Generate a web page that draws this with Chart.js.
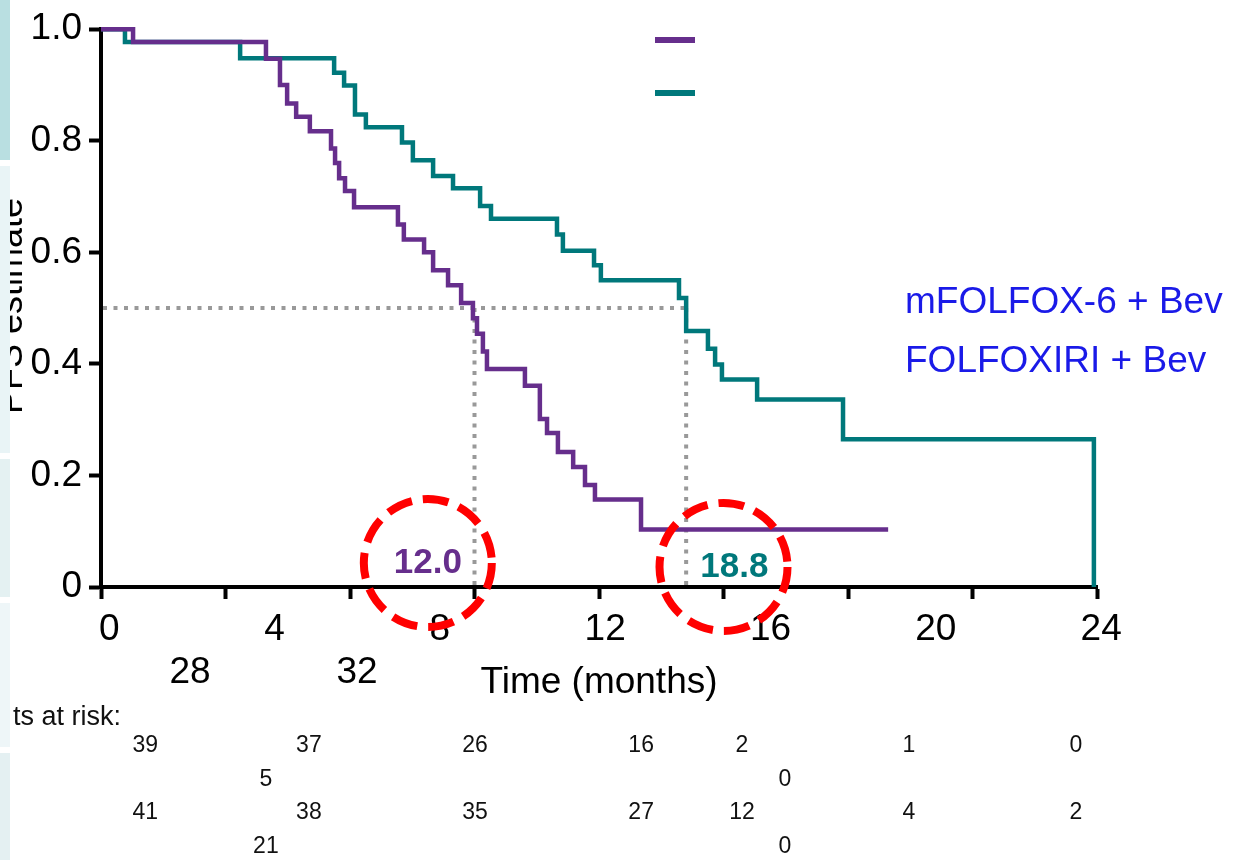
<!DOCTYPE html>
<html>
<head>
<meta charset="utf-8">
<script src="https://cdn.jsdelivr.net/npm/chart.js@4/dist/chart.umd.min.js"></script>
<style>
  html, body { margin: 0; padding: 0; background: #fff; }
  #wrap { position: relative; width: 1233px; height: 860px; }
</style>
</head>
<body>
<div id="wrap"><canvas id="pfsChart"></canvas></div>
<script>
// --- data ---
const seriesNames = ['mFOLFOX-6 + Bev', 'FOLFOXIRI + Bev'];

const folfoxTimes = [0, 1.03, 5.30, 5.75, 5.98, 6.27, 6.71, 7.39, 7.52, 7.65, 7.84, 8.13, 9.54, 9.73,
  10.38, 10.67, 11.15, 11.57, 11.95, 12.08, 12.27, 12.40, 13.62, 14.10, 14.33, 14.68, 15.17, 15.55,
  15.87, 17.35, 25.29];
const folfoxSurv = [1.0, 0.977, 0.947, 0.900, 0.867, 0.843, 0.817, 0.786, 0.760, 0.733, 0.710, 0.681,
  0.650, 0.623, 0.600, 0.568, 0.541, 0.509, 0.482, 0.454, 0.422, 0.391, 0.361, 0.301, 0.276, 0.242,
  0.215, 0.183, 0.157, 0.103, 0.103];

const folfoxiriTimes = [0, 0.77, 4.47, 7.49, 7.81, 8.16, 8.51, 9.67, 10.02, 10.67, 11.31, 12.18, 12.53,
  14.65, 14.84, 15.84, 16.06, 18.57, 18.80, 19.50, 19.73, 19.95, 21.08, 23.84, 31.90];
const folfoxiriSurv = [1.0, 0.977, 0.948, 0.922, 0.899, 0.847, 0.824, 0.797, 0.765, 0.737, 0.715,
  0.683, 0.660, 0.632, 0.603, 0.577, 0.550, 0.518, 0.459, 0.427, 0.399, 0.372, 0.336, 0.265, 0];

const medianTimes = [12.0, 18.8];
const medianLabels = ['12.0', '18.8'];

const xTickLabels = [0, 4, 8, 12, 16, 20, 24];
const xTickOverflow = ['28', '32'];

const riskTitle = 'Patients at risk:';
const riskFolfox = ['39', '37', '26', '16', '2', '1', '0'];
const riskFolfoxExtra = ['5', '0'];
const riskFolfoxiri = ['41', '38', '35', '27', '12', '4', '2'];
const riskFolfoxiriExtra = ['21', '0'];

// --- look & layout ---
const PURPLE = '#662e8c';
const TEAL = '#00787b';
const FONT = "'Liberation Sans', Arial, Helvetica, sans-serif";

const riskCols = [0.87, 4.83, 8.85, 12.87, 15.31, 19.35, 23.39];   // on the label axis
const riskColsExtra = [3.79, 16.35];
const riskRowsY = [746, 780, 813, 847];
const overflowX = [190, 357];
const circleCenters = [[10.5, 0.043], [20.0, 0.036]];
const medianLabelX = [10.5, 20.35];

const stripBands = [[0, 160, '#b9dfe1'], [166, 453, '#e9f4f6'], [459, 597, '#e4f1f2'],
  [603, 747, '#eef6f8'], [753, 860, '#e4f0f2']];

function toPoints(ts, ss) {
  return ts.map((t, i) => ({ x: t, y: ss[i] }));
}

const kmExtras = {
  id: 'kmExtras',
  beforeDatasetsDraw(chart) {
    const { ctx, scales: { x, y } } = chart;
    const y50 = y.getPixelForValue(0.5);
    ctx.save();
    ctx.strokeStyle = '#999999';
    ctx.lineWidth = 4;
    ctx.setLineDash([4, 6.5]);
    ctx.beginPath();
    ctx.moveTo(x.getPixelForValue(0) + 2, y50);
    ctx.lineTo(x.getPixelForValue(medianTimes[1]), y50);
    medianTimes.forEach(m => {
      const px = x.getPixelForValue(m);
      ctx.moveTo(px, y50);
      ctx.lineTo(px, y.getPixelForValue(0));
    });
    ctx.stroke();
    ctx.restore();
  },
  afterDatasetsDraw(chart) {
    const { ctx, scales: { x, y } } = chart;
    const colors = [PURPLE, TEAL];
    ctx.save();
    circleCenters.forEach((c, i) => {
      const cx = x.getPixelForValue(c[0]);
      const cy = y.getPixelForValue(c[1]);
      ctx.strokeStyle = '#ff0000';
      ctx.lineWidth = 8;
      ctx.setLineDash([26, 11]);
      ctx.beginPath();
      ctx.arc(cx, cy, 64, 0, Math.PI * 2);
      ctx.stroke();
      ctx.fillStyle = colors[i];
      ctx.font = 'bold 35px ' + FONT;
      ctx.textAlign = 'center';
      ctx.textBaseline = 'middle';
      ctx.fillText(medianLabels[i], x.getPixelForValue(medianLabelX[i]), cy);
    });
    ctx.restore();
  },
  afterDraw(chart) {
    const { ctx, scales } = chart;
    const x2 = scales.x2;
    ctx.save();

    // legend swatches (no text beside them) and the floating labels
    ctx.lineWidth = 6;
    ctx.strokeStyle = PURPLE;
    ctx.beginPath(); ctx.moveTo(655, 40); ctx.lineTo(695, 40); ctx.stroke();
    ctx.strokeStyle = TEAL;
    ctx.beginPath(); ctx.moveTo(655, 93); ctx.lineTo(695, 93); ctx.stroke();
    ctx.fillStyle = '#1a1ae8';
    ctx.font = '37px ' + FONT;
    ctx.textAlign = 'left';
    ctx.textBaseline = 'middle';
    ctx.fillText(seriesNames[0], 905, 303);
    ctx.fillText(seriesNames[1], 905, 362);

    // tick labels that spilled onto a second row
    ctx.fillStyle = '#000';
    ctx.font = '37px ' + FONT;
    ctx.textAlign = 'center';
    xTickOverflow.forEach((t, i) => ctx.fillText(t, overflowX[i], 673));

    // patients at risk
    ctx.font = '23px ' + FONT;
    ctx.fillStyle = '#111';
    const rows = [[riskFolfox, riskCols], [riskFolfoxExtra, riskColsExtra],
      [riskFolfoxiri, riskCols], [riskFolfoxiriExtra, riskColsExtra]];
    rows.forEach(([vals, cols], r) => {
      vals.forEach((v, i) => ctx.fillText(v, x2.getPixelForValue(cols[i]), riskRowsY[r]));
    });
    ctx.save();
    ctx.beginPath();
    ctx.rect(12, 690, 200, 60);
    ctx.clip();
    ctx.textAlign = 'right';
    ctx.font = '27px ' + FONT;
    ctx.fillText(riskTitle, 121, 718);
    ctx.restore();

    // y title, mostly hidden under the slide's side strip
    ctx.save();
    ctx.translate(22, 306);
    ctx.rotate(-Math.PI / 2);
    ctx.font = '36px ' + FONT;
    ctx.textAlign = 'center';
    ctx.textBaseline = 'alphabetic';
    ctx.fillStyle = '#000';
    ctx.fillText('PFS estimate', 0, 0);
    ctx.restore();

    stripBands.forEach(([y0, y1, c]) => {
      ctx.fillStyle = c;
      ctx.fillRect(0, y0, 10, y1 - y0);
    });
    ctx.restore();
  }
};

const ctx = document.getElementById('pfsChart').getContext('2d');
new Chart(ctx, {
  type: 'line',
  data: {
    datasets: [
      {
        label: seriesNames[0],
        data: toPoints(folfoxTimes, folfoxSurv),
        borderColor: PURPLE,
        borderWidth: 4.5,
        stepped: 'before',
        pointRadius: 0,
        fill: false,
        clip: false
      },
      {
        label: seriesNames[1],
        data: toPoints(folfoxiriTimes, folfoxiriSurv),
        borderColor: TEAL,
        borderWidth: 4.5,
        stepped: 'before',
        pointRadius: 0,
        fill: false,
        clip: false
      }
    ]
  },
  options: {
    responsive: true,
    maintainAspectRatio: false,
    animation: false,
    layout: { padding: { top: 25, right: 136, bottom: 151, left: 0 } },
    plugins: {
      legend: { display: false },
      tooltip: { enabled: false }
    },
    scales: {
      x: {
        type: 'linear',
        position: 'bottom',
        weight: 0,
        min: 0,
        max: 32,
        ticks: { display: false, stepSize: 4 },
        grid: { drawOnChartArea: false, drawTicks: true, tickLength: 12, tickWidth: 4, tickColor: '#000' },
        border: { color: '#000', width: 4 },
        afterFit: s => { s.height = 14; }
      },
      x2: {
        type: 'linear',
        position: 'bottom',
        weight: 1,
        min: -0.2,
        max: 23.9,
        afterBuildTicks: s => { s.ticks = xTickLabels.map(v => ({ value: v })); },
        ticks: { font: { size: 37, family: FONT }, color: '#000', padding: 7, maxRotation: 0, autoSkip: false },
        grid: { display: false, drawTicks: false },
        border: { display: false },
        title: { display: true, text: 'Time (months)', color: '#000', font: { size: 37, family: FONT }, padding: { top: 4, bottom: 4 } },
        afterFit: s => { s.height = 108; }
      },
      y: {
        min: 0,
        max: 1,
        ticks: {
          stepSize: 0.2,
          font: { size: 37, family: FONT },
          color: '#000',
          padding: 7,
          callback: v => (v === 0 ? '0' : v.toFixed(1))
        },
        grid: { drawOnChartArea: false, tickLength: 12, tickWidth: 4, tickColor: '#000' },
        border: { color: '#000', width: 4 },
        afterFit: s => { s.width = 101; }
      }
    }
  },
  plugins: [kmExtras]
});
</script>
</body>
</html>
